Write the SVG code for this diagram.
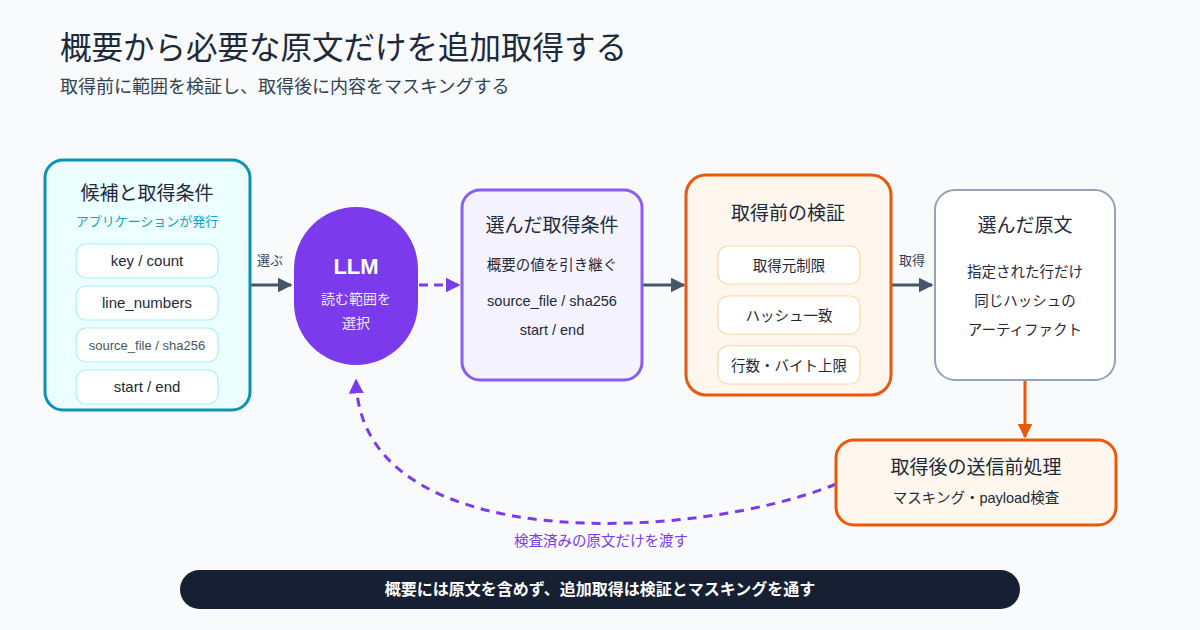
<svg xmlns="http://www.w3.org/2000/svg" width="1200" height="630" viewBox="0 0 1200 630">
<defs>
<style>
text{font-family:"Liberation Sans","Noto Sans CJK JP",sans-serif;fill:#1e293b}
.c{text-anchor:middle}
.h{font-size:19px;font-weight:400}
.b{font-size:14.5px}
.p{font-size:15px;font-weight:500}
.lbl{font-size:13px;fill:#334155}
.pill-c{fill:#fff;stroke:#a5f3fc;stroke-width:1.2}
.pill-o{fill:#fff;stroke:#fed7aa;stroke-width:1.2}
.conn{fill:none;stroke:#475569;stroke-width:3}
</style>
<marker id="ag" viewBox="0 0 10 10" refX="9" refY="5" markerWidth="5" markerHeight="5" orient="auto" markerUnits="strokeWidth"><path d="M0,0 L10,5 L0,10 z" fill="#475569"/></marker>
<marker id="ap" viewBox="0 0 10 10" refX="9" refY="5" markerWidth="5" markerHeight="5" orient="auto" markerUnits="strokeWidth"><path d="M0,0 L10,5 L0,10 z" fill="#7c3aed"/></marker>
<marker id="ao" viewBox="0 0 10 10" refX="9" refY="5" markerWidth="5" markerHeight="5" orient="auto" markerUnits="strokeWidth"><path d="M0,0 L10,5 L0,10 z" fill="#ea580c"/></marker>
</defs>
<rect width="1200" height="630" fill="#f8fafc"/>
<text x="60" y="59" style="font-size:31.5px;font-weight:400">概要から必要な原文だけを追加取得する</text>
<text x="60" y="93" style="font-size:18px;fill:#334155">取得前に範囲を検証し、取得後に内容をマスキングする</text>

<g id="connectors">
<line class="conn" x1="250" y1="285" x2="291" y2="285" marker-end="url(#ag)"/>
<text class="lbl c" x="270" y="265">選ぶ</text>
<line x1="419" y1="285" x2="459" y2="285" fill="none" stroke="#7c3aed" stroke-width="3" stroke-dasharray="9 6" marker-end="url(#ap)"/>
<line class="conn" x1="643" y1="285" x2="684" y2="285" marker-end="url(#ag)"/>
<line class="conn" x1="892" y1="285" x2="932" y2="285" marker-end="url(#ag)"/>
<text class="lbl c" x="912" y="265">取得</text>
<line x1="1025" y1="381" x2="1025" y2="437" stroke="#ea580c" stroke-width="3" marker-end="url(#ao)"/>
<path d="M836,484 C700,540 360,560 356,380" fill="none" stroke="#7c3aed" stroke-width="3" stroke-dasharray="9 7" marker-end="url(#ap)"/>
<text class="c" x="601" y="546" style="font-size:14.5px;fill:#7c3aed">検査済みの原文だけを渡す</text>
</g>

<g id="candidates">
<rect x="45" y="160" width="205" height="250" rx="18" fill="#ecfeff" stroke="#0e91b2" stroke-width="3"/>
<text class="h c" x="147" y="200">候補と取得条件</text>
<text class="c" x="147" y="226" style="font-size:13px;fill:#0ea5c6">アプリケーションが発行</text>
<rect class="pill-c" x="76" y="244" width="142" height="34" rx="10"/>
<text class="p c" x="147" y="266">key / count</text>
<rect class="pill-c" x="76" y="286" width="142" height="34" rx="10"/>
<text class="p c" x="147" y="308">line_numbers</text>
<rect class="pill-c" x="76" y="328" width="142" height="34" rx="10"/>
<text class="c" x="147" y="350" style="font-size:13px;fill:#475569">source_file / sha256</text>
<rect class="pill-c" x="76" y="370" width="142" height="34" rx="10"/>
<text class="p c" x="147" y="392">start / end</text>
</g>

<g id="llm">
<rect x="294" y="207" width="124" height="158" rx="62" fill="#7c3aed"/>
<text class="c" x="356" y="274" style="font-size:22px;font-weight:700;fill:#fff">LLM</text>
<text class="c" x="356" y="304" style="font-size:14px;fill:#ede9fe">読む範囲を</text>
<text class="c" x="356" y="328" style="font-size:14px;fill:#ede9fe">選択</text>
</g>

<g id="selected-conditions">
<rect x="462" y="190" width="180" height="190" rx="18" fill="#f5f3ff" stroke="#8b5cf6" stroke-width="3"/>
<text class="h c" x="552" y="232">選んだ取得条件</text>
<text class="b c" x="552" y="270">概要の値を引き継ぐ</text>
<text class="b c" x="552" y="306">source_file / sha256</text>
<text class="b c" x="552" y="335">start / end</text>
</g>

<g id="pre-check">
<rect x="686" y="175" width="205" height="220" rx="20" fill="#fff7ed" stroke="#ea580c" stroke-width="3"/>
<text class="h c" x="788" y="220">取得前の検証</text>
<rect class="pill-o" x="718" y="246" width="142" height="38" rx="10"/>
<text class="b c" x="789" y="271">取得元制限</text>
<rect class="pill-o" x="718" y="296" width="142" height="38" rx="10"/>
<text class="b c" x="789" y="321">ハッシュ一致</text>
<rect class="pill-o" x="718" y="346" width="142" height="38" rx="10"/>
<text class="b c" x="789" y="371">行数・バイト上限</text>
</g>

<g id="selected-source">
<rect x="935" y="190" width="180" height="190" rx="20" fill="#fff" stroke="#94a3b8" stroke-width="2"/>
<text class="h c" x="1025" y="232">選んだ原文</text>
<text class="b c" x="1025" y="277">指定された行だけ</text>
<text class="b c" x="1025" y="306">同じハッシュの</text>
<text class="b c" x="1025" y="335">アーティファクト</text>
</g>

<g id="post-process">
<rect x="836" y="440" width="280" height="85" rx="18" fill="#fff7ed" stroke="#ea580c" stroke-width="3"/>
<text class="h c" x="976" y="474">取得後の送信前処理</text>
<text class="b c" x="976" y="503">マスキング・payload検査</text>
</g>

<g id="footer">
<rect x="180" y="570" width="840" height="39" rx="19.5" fill="#172033"/>
<text class="c" x="600" y="595" style="font-size:16px;font-weight:700;fill:#fff">概要には原文を含めず、追加取得は検証とマスキングを通す</text>
</g>
</svg>
